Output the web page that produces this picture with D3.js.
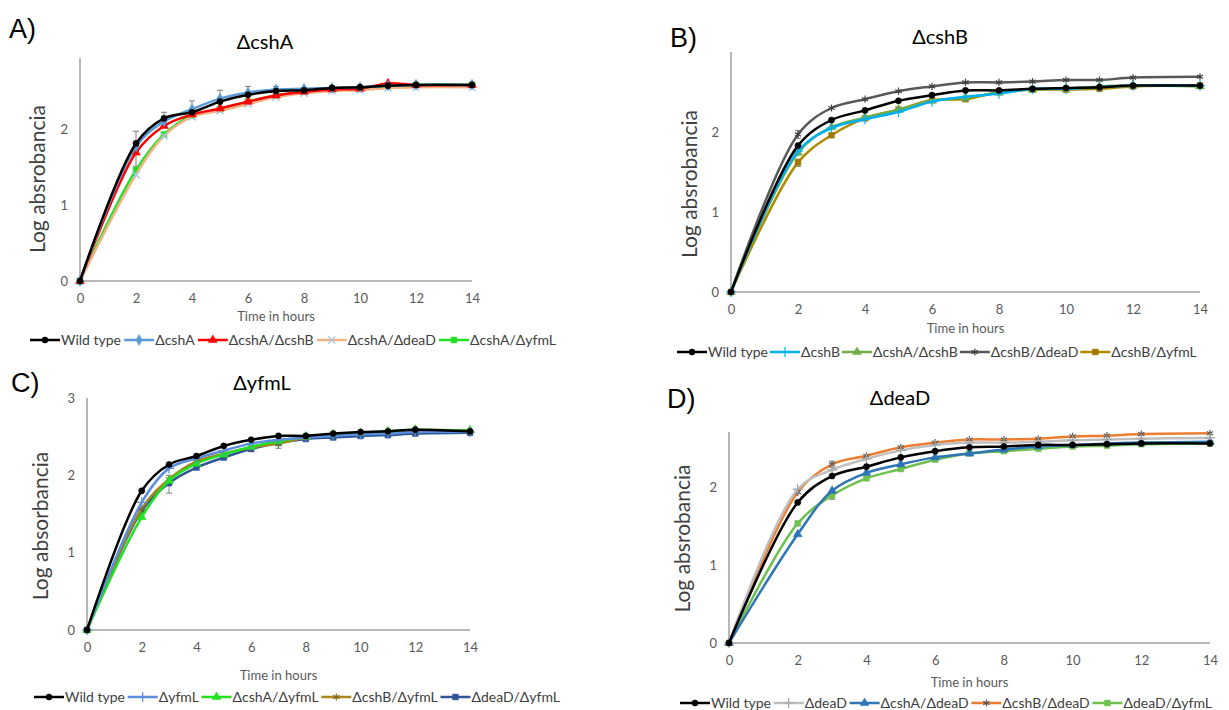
<!DOCTYPE html>
<html>
<head>
<meta charset="utf-8">
<script src="https://cdn.jsdelivr.net/npm/d3@7"></script>
<style>
  body { margin: 0; background: #fff; }
  svg { display: block; }
  text { font-family: Lato, "Open Sans", sans-serif; }
</style>
</head>
<body>
<svg id="chart" width="1229" height="710"></svg>
<script>
// time points (hours)
const hours = [0, 2, 3, 4, 5, 6, 7, 8, 9, 10, 11, 12, 14];
const xTicks = [0, 2, 4, 6, 8, 10, 12, 14];

// A) ΔcshA
const a_wild      = [0, 1.81, 2.14, 2.22, 2.36, 2.45, 2.50, 2.51, 2.54, 2.55, 2.57, 2.58, 2.58];
const a_cshA      = [0, 1.77, 2.10, 2.26, 2.40, 2.48, 2.52, 2.53, 2.54, 2.55, 2.57, 2.58, 2.58];
const a_cshA_cshB = [0, 1.69, 2.04, 2.19, 2.27, 2.36, 2.44, 2.49, 2.52, 2.53, 2.60, 2.58, 2.58];
const a_cshA_deaD = [0, 1.40, 1.91, 2.16, 2.24, 2.33, 2.42, 2.47, 2.50, 2.51, 2.54, 2.55, 2.55];
const a_cshA_yfmL = [0, 1.46, 1.93, 2.18, 2.26, 2.36, 2.44, 2.49, 2.53, 2.54, 2.56, 2.58, 2.58];
const namesA = ["Wild type", "ΔcshA", "ΔcshA/ΔcshB", "ΔcshA/ΔdeaD", "ΔcshA/ΔyfmL"];
// error bars: [series, hour, +err, -err]
const errA = [[0, 2, 0.16, 0.30], [0, 3, 0.08, 0.05], [1, 4, 0.11, 0.05], [1, 5, 0.11, 0.05], [1, 6, 0.08, 0.05], [1, 7, 0.04, 0.03]];

// B) ΔcshB
const b_wild      = [0, 1.83, 2.15, 2.27, 2.39, 2.46, 2.52, 2.52, 2.54, 2.55, 2.56, 2.58, 2.58];
const b_cshB      = [0, 1.76, 2.05, 2.16, 2.25, 2.38, 2.44, 2.48, 2.54, 2.54, 2.56, 2.58, 2.58];
const b_cshA_cshB = [0, 1.74, 2.06, 2.18, 2.28, 2.39, 2.43, 2.49, 2.53, 2.54, 2.57, 2.58, 2.57];
const b_cshB_deaD = [0, 1.97, 2.30, 2.41, 2.51, 2.57, 2.62, 2.62, 2.63, 2.65, 2.65, 2.68, 2.69];
const b_cshB_yfmL = [0, 1.62, 1.96, 2.17, 2.28, 2.40, 2.41, 2.50, 2.53, 2.53, 2.54, 2.57, 2.58];
const namesB = ["Wild type", "ΔcshB", "ΔcshA/ΔcshB", "ΔcshB/ΔdeaD", "ΔcshB/ΔyfmL"];
const errB = [[3, 2, 0.05, 0.05], [4, 2, 0.04, 0.05]];

// C) ΔyfmL
const c_wild      = [0, 1.80, 2.14, 2.25, 2.38, 2.46, 2.51, 2.51, 2.54, 2.56, 2.57, 2.59, 2.57];
const c_yfmL      = [0, 1.65, 2.09, 2.22, 2.32, 2.41, 2.46, 2.49, 2.51, 2.53, 2.54, 2.56, 2.56];
const c_cshA_yfmL = [0, 1.46, 1.93, 2.15, 2.27, 2.37, 2.44, 2.50, 2.53, 2.55, 2.57, 2.59, 2.58];
const c_cshB_yfmL = [0, 1.57, 1.95, 2.18, 2.28, 2.36, 2.41, 2.49, 2.52, 2.54, 2.56, 2.57, 2.57];
const c_deaD_yfmL = [0, 1.54, 1.90, 2.10, 2.23, 2.34, 2.42, 2.47, 2.49, 2.51, 2.52, 2.54, 2.55];
const namesC = ["Wild type", "ΔyfmL", "ΔcshA/ΔyfmL", "ΔcshB/ΔyfmL", "ΔdeaD/ΔyfmL"];
const errC = [[3, 3, 0.05, 0.18], [3, 7, 0.03, 0.06]];

// D) ΔdeaD
const d_wild      = [0, 1.81, 2.15, 2.27, 2.39, 2.47, 2.52, 2.53, 2.55, 2.55, 2.56, 2.57, 2.57];
const d_deaD      = [0, 1.98, 2.23, 2.37, 2.48, 2.55, 2.58, 2.58, 2.59, 2.61, 2.62, 2.63, 2.64];
const d_cshA_deaD = [0, 1.40, 1.96, 2.19, 2.30, 2.39, 2.44, 2.49, 2.53, 2.55, 2.57, 2.58, 2.59];
const d_cshB_deaD = [0, 1.94, 2.30, 2.41, 2.52, 2.58, 2.62, 2.62, 2.63, 2.66, 2.67, 2.69, 2.70];
const d_deaD_yfmL = [0, 1.54, 1.90, 2.12, 2.24, 2.36, 2.44, 2.47, 2.50, 2.53, 2.54, 2.56, 2.57];
const namesD = ["Wild type", "ΔdeaD", "ΔcshA/ΔdeaD", "ΔcshB/ΔdeaD", "ΔdeaD/ΔyfmL"];
const errD = [[3, 3, 0.04, 0.04], [4, 3, 0.03, 0.05]];

const svg = d3.select("#chart");

const panels = [
  { letter: "A)", lx: 9, ly: 38, title: "ΔcshA", ylabel: "Log absrobancia",
    series: [a_wild, a_cshA, a_cshA_cshB, a_cshA_deaD, a_cshA_yfmL], names: namesA, err: errA,
    colors: ["#000000", "#5b9bd5", "#ff0000", "#f4b183", "#22e022"],
    markColors: ["#000000", "#5b9bd5", "#ff0000", "#9dc3e6", "#22e022"],
    marks: ["circle", "diamond", "triangle", "times", "square"],
    x0: 80, x1: 472, y0: 281, yTop: 53, yTicks: [0, 1, 2], axisTop: 58,
    tx: 265, ty: 49, ylx: 45, xlabY: 321, legX: 30, legR: 556, legY: 340 },
  { letter: "B)", lx: 670, ly: 47, title: "ΔcshB", ylabel: "Log absrobancia",
    series: [b_wild, b_cshB, b_cshA_cshB, b_cshB_deaD, b_cshB_yfmL], names: namesB, err: errB,
    colors: ["#000000", "#00b0f0", "#70ad47", "#595959", "#b08a00"],
    markColors: ["#000000", "#00b0f0", "#70ad47", "#404040", "#a07800"],
    marks: ["circle", "plus", "triangle", "asterisk", "square"],
    x0: 731, x1: 1200, y0: 292, yTop: 52, yTicks: [0, 1, 2], axisTop: 52,
    tx: 940, ty: 44, ylx: 697, xlabY: 333, legX: 677, legR: 1188, legY: 352 },
  { letter: "C)", lx: 11, ly: 392, title: "ΔyfmL", ylabel: "Log absorbancia",
    series: [c_wild, c_yfmL, c_cshA_yfmL, c_cshB_yfmL, c_deaD_yfmL], names: namesC, err: errC,
    colors: ["#000000", "#5b8fdd", "#22e022", "#a8861a", "#2f5597"],
    markColors: ["#000000", "#5b8fdd", "#22e022", "#7f6a1a", "#2f5597"],
    marks: ["circle", "plus", "triangle", "asterisk", "square"],
    x0: 87, x1: 470, y0: 630, yTop: 398, yTicks: [0, 1, 2, 3], axisTop: 398,
    tx: 262, ty: 390, ylx: 48, xlabY: 680, legX: 34, legR: 560, legY: 697 },
  { letter: "D)", lx: 667, ly: 408, title: "ΔdeaD", ylabel: "Log absrobancia",
    series: [d_wild, d_deaD, d_cshA_deaD, d_cshB_deaD, d_deaD_yfmL], names: namesD, err: errD,
    colors: ["#000000", "#bfbfbf", "#2e75b6", "#ed7d31", "#70c050"],
    markColors: ["#000000", "#a6a6a6", "#2e75b6", "#595959", "#70c050"],
    marks: ["circle", "plus", "triangle", "asterisk", "square"],
    x0: 729, x1: 1210, y0: 643, yTop: 410, yTicks: [0, 1, 2], axisTop: 432,
    tx: 900, ty: 405, ylx: 690, xlabY: 687, legX: 680, legR: 1212, legY: 703 }
];

const symbolTypes = {
  circle: d3.symbolCircle, diamond: d3.symbolDiamond, triangle: d3.symbolTriangle,
  square: d3.symbolSquare, plus: d3.symbolPlus, times: d3.symbolTimes, asterisk: d3.symbolAsterisk
};
const strokeSymbols = ["plus", "times", "asterisk"];

function drawMark(g, type, color, cx, cy) {
  const stroked = strokeSymbols.includes(type);
  const size = type === "square" ? 34 : type === "circle" ? 30 : stroked ? 36 : 34;
  g.append("path")
    .attr("d", d3.symbol(symbolTypes[type], size)())
    .attr("transform", "translate(" + cx + "," + cy + ")")
    .attr("fill", stroked ? "none" : color)
    .attr("stroke", color)
    .attr("stroke-width", stroked ? 1.2 : 0.5);
}

panels.forEach(p => {
  const g = svg.append("g");

  const x = d3.scaleLinear().domain([0, 14]).range([p.x0, p.x1]);
  const y = d3.scaleLinear().domain([0, 3]).range([p.y0, p.yTop]);

  // panel letter and title
  g.append("text").attr("x", p.lx).attr("y", p.ly)
    .style("font-family", "'Liberation Sans', Arial, sans-serif")
    .style("font-size", "27px").attr("fill", "#000").text(p.letter);
  g.append("text").attr("x", p.tx).attr("y", p.ty)
    .attr("text-anchor", "middle").style("font-size", "20px").attr("fill", "#000").text(p.title);

  // axes
  const xAxis = g.append("g")
    .attr("transform", "translate(0," + p.y0 + ")")
    .call(d3.axisBottom(x).tickValues(xTicks).tickSize(0).tickPadding(13));
  const yAxis = g.append("g")
    .attr("transform", "translate(" + p.x0 + ",0)")
    .call(d3.axisLeft(y).tickValues(p.yTicks).tickFormat(d3.format("d")).tickSize(0).tickPadding(12));
  [xAxis, yAxis].forEach(a => {
    a.select(".domain").remove();
    a.selectAll("text").style("font-size", "13px").attr("fill", "#595959")
      .style("font-family", "Lato, sans-serif");
  });
  g.append("line").attr("x1", p.x0).attr("x2", p.x1).attr("y1", p.y0).attr("y2", p.y0)
    .attr("stroke", "#a0a0a0").attr("stroke-width", 1.5);
  g.append("line").attr("x1", p.x0).attr("x2", p.x0).attr("y1", p.y0).attr("y2", p.axisTop)
    .attr("stroke", "#a0a0a0").attr("stroke-width", 1.5);

  // axis titles
  g.append("text").attr("x", (p.x0 + p.x1) / 2).attr("y", p.xlabY)
    .attr("text-anchor", "middle").style("font-size", "13px").attr("fill", "#595959").text("Time in hours");
  g.append("text")
    .attr("transform", "translate(" + p.ylx + "," + ((p.y0 + p.yTop) / 2 + 12) + ") rotate(-90)")
    .attr("text-anchor", "middle").style("font-size", "21px").attr("fill", "#404040").text(p.ylabel);

  // error bars
  p.err.forEach(e => {
    const v = p.series[e[0]][hours.indexOf(e[1])];
    const cx = x(e[1]);
    const eg = g.append("g").attr("stroke", "#7f7f7f").attr("stroke-width", 1);
    eg.append("line").attr("x1", cx).attr("x2", cx).attr("y1", y(v + e[2])).attr("y2", y(v - e[3]));
    eg.append("line").attr("x1", cx - 3).attr("x2", cx + 3).attr("y1", y(v + e[2])).attr("y2", y(v + e[2]));
    eg.append("line").attr("x1", cx - 3).attr("x2", cx + 3).attr("y1", y(v - e[3])).attr("y2", y(v - e[3]));
  });

  const line = d3.line()
    .x((d, i) => x(hours[i]))
    .y(d => y(d))
    .curve(d3.curveCatmullRom.alpha(0.5));

  // draw in reverse so wild type sits on top
  for (let s = p.series.length - 1; s >= 0; s--) {
    g.append("path").datum(p.series[s])
      .attr("fill", "none").attr("stroke", p.colors[s]).attr("stroke-width", 2.5)
      .attr("d", line);
    p.series[s].forEach((v, i) => drawMark(g, p.marks[s], p.markColors[s], x(hours[i]), y(v)));
  }

  // legend: lay out items, then spread the gaps to fill the reference span
  const leg = g.append("g").attr("transform", "translate(" + p.legX + "," + p.legY + ")");
  const items = p.names.map((name, s) => {
    const item = leg.append("g");
    item.append("line").attr("x1", 0).attr("x2", 30).attr("y1", 0).attr("y2", 0)
      .attr("stroke", p.colors[s]).attr("stroke-width", 2.5);
    drawMark(item, p.marks[s], p.markColors[s], 15, 0);
    const t = item.append("text").attr("x", 31).attr("y", 5)
      .style("font-size", "14px").attr("fill", "#404040").text(name);
    return { item, w: 31 + t.node().getComputedTextLength() };
  });
  const total = d3.sum(items, d => d.w);
  const gap = Math.max(2, (p.legR - p.legX - total) / (items.length - 1));
  let cursor = 0;
  items.forEach(d => {
    d.item.attr("transform", "translate(" + cursor + ",0)");
    cursor += d.w + gap;
  });
});
</script>
</body>
</html>
